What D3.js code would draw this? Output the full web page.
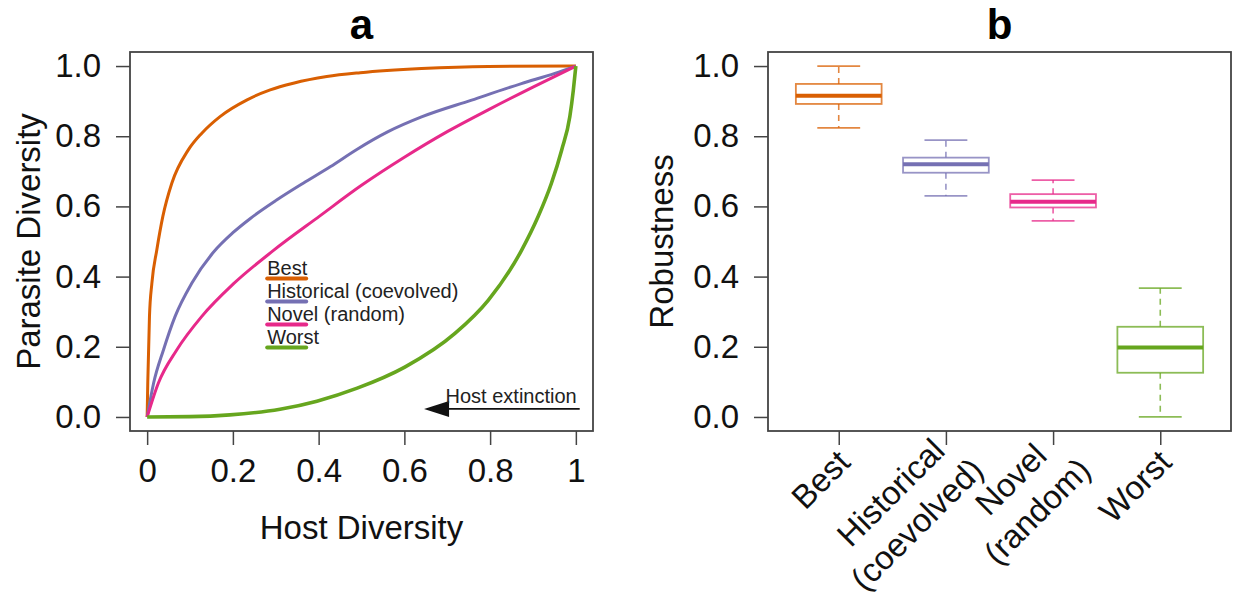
<!DOCTYPE html>
<html>
<head>
<meta charset="utf-8">
<script src="https://cdn.jsdelivr.net/npm/d3@7"></script>
<style>
  html, body { margin: 0; padding: 0; background: #fff; }
  svg { display: block; font-family: "Liberation Sans", Arial, Helvetica, sans-serif; }
</style>
</head>
<body>
<svg id="chart" width="1236" height="601"></svg>
<script>
// ---------------- DATA ----------------
// Panel a: host diversity (x) vs parasite diversity (y)
const seriesNames = ["Best", "Historical (coevolved)", "Novel (random)", "Worst"];
const seriesColors = ["#D95F02", "#7570B3", "#E7298A", "#66A61E"];

const bestX  = [0, 0.0015, 0.0054, 0.011, 0.0225, 0.0365, 0.0575, 0.096, 0.127, 0.170, 0.232, 0.287, 0.341, 0.419, 0.497, 0.640, 0.796, 1.0];
const bestY  = [0, 0.10, 0.286, 0.381, 0.476, 0.571, 0.666, 0.761, 0.808, 0.856, 0.903, 0.932, 0.951, 0.970, 0.981, 0.993, 0.999, 1.0];

const histX  = [0, 0.015, 0.038, 0.065, 0.104, 0.155, 0.200, 0.240, 0.302, 0.364, 0.427, 0.490, 0.562, 0.640, 0.757, 0.873, 0.951, 1.0];
const histY  = [0, 0.096, 0.191, 0.286, 0.381, 0.470, 0.525, 0.565, 0.618, 0.666, 0.713, 0.763, 0.813, 0.855, 0.903, 0.950, 0.979, 1.0];

const novelX = [0, 0.026, 0.069, 0.127, 0.201, 0.294, 0.403, 0.500, 0.600, 0.700, 0.800, 0.900, 1.0];
const novelY = [0, 0.096, 0.191, 0.286, 0.379, 0.474, 0.573, 0.660, 0.740, 0.813, 0.878, 0.940, 1.0];

const worstX = [0, 0.10, 0.193, 0.310, 0.396, 0.490, 0.601, 0.718, 0.796, 0.873, 0.912, 0.943, 0.967, 0.986, 0.994, 1.0];
const worstY = [0, 0.001, 0.006, 0.022, 0.045, 0.082, 0.142, 0.238, 0.333, 0.474, 0.571, 0.666, 0.761, 0.856, 0.930, 1.0];

const xTicksA = [0, 0.2, 0.4, 0.6, 0.8, 1];
const xTickLabelsA = ["0", "0.2", "0.4", "0.6", "0.8", "1"];
const yTicks = [0, 0.2, 0.4, 0.6, 0.8, 1.0];
const yTickLabels = ["0.0", "0.2", "0.4", "0.6", "0.8", "1.0"];

// Panel b: robustness boxplots
const categories  = [["Best"], ["Historical", "(coevolved)"], ["Novel", "(random)"], ["Worst"]];
const whiskerLow  = [0.824, 0.630, 0.559, 0.000];
const q1          = [0.892, 0.696, 0.597, 0.126];
const medians     = [0.915, 0.720, 0.613, 0.198];
const q3          = [0.949, 0.739, 0.635, 0.257];
const whiskerHigh = [1.000, 0.789, 0.675, 0.367];

// ---------------- DRAW ----------------
const svg = d3.select("#chart");
const FS = 33;
const axisColor = "#111";
const boxColor = "#444";

// ===== Panel a =====
const ax = d3.scaleLinear().domain([-0.04, 1.04]).range([130, 593]);
const ay = d3.scaleLinear().domain([-0.04, 1.04]).range([431, 52]);

const gA = svg.append("g");

gA.append("text").attr("x", (130 + 593) / 2).attr("y", 39)
  .attr("text-anchor", "middle").attr("font-size", 42).attr("font-weight", "bold")
  .text("a");

const xAxisA = d3.axisBottom(ax).tickValues(xTicksA)
  .tickFormat((d, i) => xTickLabelsA[i]).tickSize(14).tickPadding(14);
const gxA = gA.append("g").attr("transform", "translate(0,431)").call(xAxisA);
const yAxisA = d3.axisLeft(ay).tickValues(yTicks)
  .tickFormat((d, i) => yTickLabels[i]).tickSize(14).tickPadding(15);
const gyA = gA.append("g").attr("transform", "translate(130,0)").call(yAxisA);
[gxA, gyA].forEach(g => {
  g.select(".domain").remove();
  g.selectAll(".tick line").attr("stroke", boxColor).attr("stroke-width", 1.5);
  g.selectAll(".tick text").attr("font-size", FS).attr("fill", axisColor)
    .attr("font-family", "Liberation Sans, Arial, sans-serif");
});

const lineGen = d3.line().x(d => ax(d[0])).y(d => ay(d[1])).curve(d3.curveMonotoneX);
const seriesData = [
  d3.zip(bestX, bestY),
  d3.zip(histX, histY),
  d3.zip(novelX, novelY),
  d3.zip(worstX, worstY)
];
seriesData.forEach((pts, i) => {
  gA.append("path").datum(pts).attr("d", lineGen)
    .attr("fill", "none").attr("stroke", seriesColors[i])
    .attr("stroke-width", i === 3 ? 3.6 : 3).attr("stroke-linejoin", "round");
});

// legend (positioned in data coordinates)
const legendX0 = 0.28, legendX1 = 0.371;
const legendBase = [0.4046, 0.339, 0.2735, 0.208];
seriesNames.forEach((name, i) => {
  gA.append("text").attr("x", ax(legendX0)).attr("y", ay(legendBase[i]))
    .attr("font-size", 20).attr("fill", "#222").text(name);
  gA.append("line")
    .attr("x1", ax(legendX0)).attr("x2", ax(legendX1))
    .attr("y1", ay(legendBase[i]) + 3.5).attr("y2", ay(legendBase[i]) + 3.5)
    .attr("stroke", seriesColors[i]).attr("stroke-width", 4).attr("stroke-linecap", "round");
});

// Host extinction arrow
const arrowFrom = 1.009, arrowTo = 0.646, arrowY = 0.023;
gA.append("line").attr("x1", ax(arrowFrom)).attr("x2", ax(arrowTo) + 20)
  .attr("y1", ay(arrowY)).attr("y2", ay(arrowY)).attr("stroke", "#111").attr("stroke-width", 1.6);
gA.append("path")
  .attr("d", `M${ax(arrowTo)},${ay(arrowY)} L${ax(arrowTo) + 25},${ay(arrowY) - 8} L${ax(arrowTo) + 25},${ay(arrowY) + 8} Z`)
  .attr("fill", "#111");
gA.append("text").attr("x", ax(1.002)).attr("y", ay(0.04)).attr("text-anchor", "end")
  .attr("font-size", 20).attr("fill", "#222").text("Host extinction");

gA.append("rect").attr("x", 130).attr("y", 52).attr("width", 593 - 130).attr("height", 431 - 52)
  .attr("fill", "none").attr("stroke", boxColor).attr("stroke-width", 1.8);

gA.append("text").attr("x", (130 + 593) / 2).attr("y", 539).attr("text-anchor", "middle")
  .attr("font-size", FS).attr("fill", axisColor).text("Host Diversity");
gA.append("text").attr("transform", `translate(40,${(52 + 431) / 2}) rotate(-90)`)
  .attr("text-anchor", "middle").attr("font-size", FS).attr("fill", axisColor).text("Parasite Diversity");

// ===== Panel b =====
const bx = d3.scaleLinear().domain([0.34, 4.66]).range([768, 1231]);
const by = d3.scaleLinear().domain([-0.04, 1.04]).range([431, 52]);
const gB = svg.append("g");

gB.append("text").attr("x", (768 + 1231) / 2).attr("y", 39)
  .attr("text-anchor", "middle").attr("font-size", 42).attr("font-weight", "bold")
  .text("b");

const yAxisB = d3.axisLeft(by).tickValues(yTicks)
  .tickFormat((d, i) => yTickLabels[i]).tickSize(14).tickPadding(15);
const gyB = gB.append("g").attr("transform", "translate(768,0)").call(yAxisB);
const xAxisB = d3.axisBottom(bx).tickValues([1, 2, 3, 4]).tickFormat("").tickSize(14);
const gxB = gB.append("g").attr("transform", "translate(0,431)").call(xAxisB);
[gxB, gyB].forEach(g => {
  g.select(".domain").remove();
  g.selectAll(".tick line").attr("stroke", boxColor).attr("stroke-width", 1.5);
  g.selectAll(".tick text").attr("font-size", FS).attr("fill", axisColor)
    .attr("font-family", "Liberation Sans, Arial, sans-serif");
});

// rotated category labels: lines centred on each other, block right-aligned near the tick
categories.forEach((lines, i) => {
  const t = gB.append("text")
    .attr("transform", `translate(${bx(i + 1) + 5},456) rotate(-45)`)
    .attr("text-anchor", "middle").attr("font-size", FS).attr("fill", axisColor);
  const spans = lines.map(ln => t.append("tspan").text(ln));
  const widths = spans.map(s => s.node().getComputedTextLength());
  const W = d3.max(widths);
  const n = lines.length;
  const shiftU = n > 1 ? [17, 13] : [0];
  const vOff = n > 1 ? [-17, 24] : [0];
  spans.forEach((s, j) => {
    s.attr("x", shiftU[j] - W / 2).attr("y", vOff[j] + 0.35 * FS);
  });
});

const boxW = 0.8, capW = 0.4;
categories.forEach((c, i) => {
  const col = seriesColors[i];
  const cx = i + 1;
  const g = gB.append("g");
  // whiskers
  g.append("line").attr("x1", bx(cx)).attr("x2", bx(cx)).attr("y1", by(q3[i])).attr("y2", by(whiskerHigh[i]))
    .attr("stroke", col).attr("stroke-opacity", 0.75).attr("stroke-width", 1.6).attr("stroke-dasharray", "6,5");
  g.append("line").attr("x1", bx(cx)).attr("x2", bx(cx)).attr("y1", by(q1[i])).attr("y2", by(whiskerLow[i]))
    .attr("stroke", col).attr("stroke-opacity", 0.75).attr("stroke-width", 1.6).attr("stroke-dasharray", "6,5");
  // caps
  [whiskerHigh[i], whiskerLow[i]].forEach(v => {
    g.append("line").attr("x1", bx(cx - capW / 2)).attr("x2", bx(cx + capW / 2))
      .attr("y1", by(v)).attr("y2", by(v))
      .attr("stroke", col).attr("stroke-opacity", 0.75).attr("stroke-width", 1.8);
  });
  // box
  g.append("rect").attr("x", bx(cx - boxW / 2)).attr("width", bx(cx + boxW / 2) - bx(cx - boxW / 2))
    .attr("y", by(q3[i])).attr("height", by(q1[i]) - by(q3[i]))
    .attr("fill", "#fff").attr("stroke", col).attr("stroke-opacity", 0.75).attr("stroke-width", 1.8);
  // median
  g.append("line").attr("x1", bx(cx - boxW / 2)).attr("x2", bx(cx + boxW / 2))
    .attr("y1", by(medians[i])).attr("y2", by(medians[i]))
    .attr("stroke", col).attr("stroke-width", 4);
});

gB.append("rect").attr("x", 768).attr("y", 52).attr("width", 1231 - 768).attr("height", 431 - 52)
  .attr("fill", "none").attr("stroke", boxColor).attr("stroke-width", 1.8);

gB.append("text").attr("transform", `translate(673,${(52 + 431) / 2}) rotate(-90)`)
  .attr("text-anchor", "middle").attr("font-size", FS).attr("fill", axisColor).text("Robustness");
</script>
</body>
</html>
